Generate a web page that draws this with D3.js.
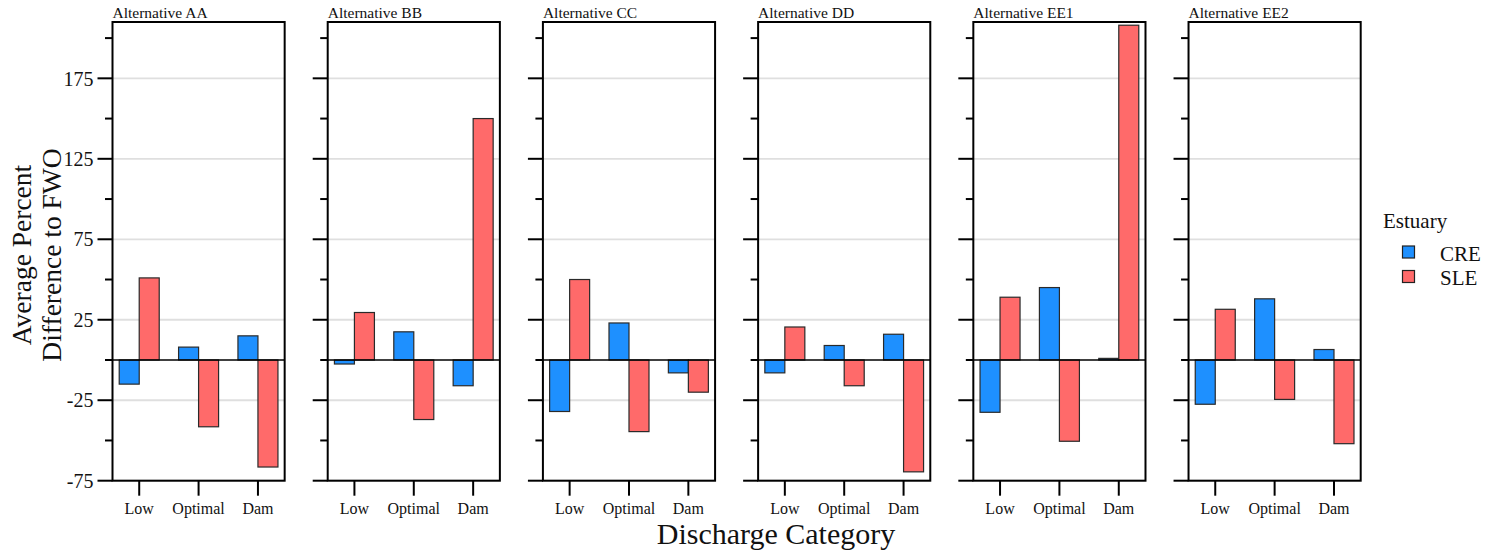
<!DOCTYPE html>
<html>
<head>
<meta charset="utf-8">
<script src="https://cdn.jsdelivr.net/npm/d3@7"></script>
<style>
  html, body { margin: 0; padding: 0; background: #fff; }
  svg { display: block; font-family: "Liberation Serif", "DejaVu Serif", serif; }
</style>
</head>
<body>
<svg id="chart" width="1489" height="551"></svg>
<script>
// Facet panels, one per alternative
const alternatives = ["Alternative AA", "Alternative BB", "Alternative CC",
                      "Alternative DD", "Alternative EE1", "Alternative EE2"];
// Discharge categories along each panel's x axis
const categories = ["Low", "Optimal", "Dam"];
const estuaries = ["CRE", "SLE"];

// Average percent difference to FWO, per alternative, in category order
const creValues = [
  [-15, 8, 15],
  [-2.5, 17.5, -16],
  [-32, 23, -8],
  [-8, 9, 16],
  [-32.5, 45, 1],
  [-27.5, 38, 6.5]
];
const sleValues = [
  [51, -41.5, -66.5],
  [29.5, -37, 150],
  [50, -44.5, -20],
  [20.5, -16, -69.5],
  [39, -50.5, 208],
  [31.5, -24.5, -52]
];

// y axis ticks: labelled (long) and unlabelled (short)
const majorTicks = [-75, -25, 25, 75, 125, 175];
const minorTicks = [-50, 0, 50, 100, 150, 200];

const colors = { CRE: "#1E90FF", SLE: "#FF6A6A" };

const svg = d3.select("#chart");

const plotTop = 22, plotBottom = 480.7;
const y = d3.scaleLinear().domain([-75, 210]).range([plotBottom, plotTop]);

const panelX = d3.scaleBand().domain(alternatives).range([112.5, 1360.7]).paddingInner(0.2);
const pw = panelX.bandwidth();
const xCat = d3.scalePoint().domain(categories).range([0, pw]).padding(0.45);
const xEst = d3.scaleBand().domain(estuaries).range([-20, 20]);

alternatives.forEach((alt, ai) => {
  const g = svg.append("g").attr("transform", `translate(${panelX(alt)},0)`);

  // grid lines at labelled ticks
  g.selectAll("line.grid").data(majorTicks).join("line")
    .attr("class", "grid")
    .attr("x1", 0).attr("x2", pw)
    .attr("y1", d => y(d)).attr("y2", d => y(d))
    .attr("stroke", "#dfdfdf").attr("stroke-width", 1.8);

  // bars
  const rows = [];
  categories.forEach((c, ci) => {
    rows.push({ cat: c, est: "CRE", v: creValues[ai][ci] });
    rows.push({ cat: c, est: "SLE", v: sleValues[ai][ci] });
  });
  g.selectAll("rect.bar").data(rows).join("rect")
    .attr("class", "bar")
    .attr("x", d => xCat(d.cat) + xEst(d.est))
    .attr("width", xEst.bandwidth())
    .attr("y", d => y(Math.max(0, d.v)))
    .attr("height", d => Math.abs(y(d.v) - y(0)))
    .attr("fill", d => colors[d.est])
    .attr("stroke", "#2a2a2a").attr("stroke-width", 1.2);

  // zero line
  g.append("line")
    .attr("x1", 0).attr("x2", pw).attr("y1", y(0)).attr("y2", y(0))
    .attr("stroke", "#000").attr("stroke-width", 1.6);

  // panel frame
  g.append("rect")
    .attr("x", 0).attr("y", plotTop).attr("width", pw).attr("height", plotBottom - plotTop)
    .attr("fill", "none").attr("stroke", "#000").attr("stroke-width", 2);

  // y ticks
  g.selectAll("line.maj").data(majorTicks).join("line")
    .attr("class", "maj")
    .attr("x1", -15).attr("x2", 0).attr("y1", d => y(d)).attr("y2", d => y(d))
    .attr("stroke", "#000").attr("stroke-width", 2);
  g.selectAll("line.min").data(minorTicks).join("line")
    .attr("class", "min")
    .attr("x1", -7.5).attr("x2", 0).attr("y1", d => y(d)).attr("y2", d => y(d))
    .attr("stroke", "#000").attr("stroke-width", 2);

  if (ai === 0) {
    g.selectAll("text.ylab").data(majorTicks).join("text")
      .attr("class", "ylab")
      .attr("x", -19).attr("y", d => y(d)).attr("dy", "0.36em")
      .attr("text-anchor", "end").attr("font-size", 20).attr("fill", "#111")
      .text(d => d);
  }

  // x ticks and labels
  g.selectAll("line.xt").data(categories).join("line")
    .attr("class", "xt")
    .attr("x1", d => xCat(d)).attr("x2", d => xCat(d))
    .attr("y1", plotBottom).attr("y2", plotBottom + 15)
    .attr("stroke", "#000").attr("stroke-width", 2);
  g.selectAll("text.xl").data(categories).join("text")
    .attr("class", "xl")
    .attr("x", d => xCat(d)).attr("y", 514)
    .attr("text-anchor", "middle").attr("font-size", 16).attr("fill", "#111")
    .text(d => d);

  // panel title
  g.append("text").attr("x", 0).attr("y", 18)
    .attr("font-size", 15.5).attr("fill", "#111").text(alt);
});

// axis titles
svg.append("text")
  .attr("transform", "translate(31,255) rotate(-90)")
  .attr("text-anchor", "middle").attr("font-size", 27.5).attr("fill", "#111")
  .text("Average Percent");
svg.append("text")
  .attr("transform", "translate(61,255) rotate(-90)")
  .attr("text-anchor", "middle").attr("font-size", 27.5).attr("fill", "#111")
  .text("Difference to FWO");
svg.append("text")
  .attr("x", 776).attr("y", 544)
  .attr("text-anchor", "middle").attr("font-size", 30).attr("fill", "#111")
  .text("Discharge Category");

// legend
const lg = svg.append("g");
lg.append("text").attr("x", 1383).attr("y", 227.5)
  .attr("font-size", 21).attr("fill", "#111").text("Estuary");
estuaries.forEach((e, i) => {
  lg.append("rect")
    .attr("x", 1402.5).attr("y", 246 + i * 24.5).attr("width", 12).attr("height", 12)
    .attr("fill", colors[e]).attr("stroke", "#222").attr("stroke-width", 1.2);
  lg.append("text").attr("x", 1440).attr("y", 260.5 + i * 24.5)
    .attr("font-size", 21).attr("fill", "#111").text(e);
});
</script>
</body>
</html>
